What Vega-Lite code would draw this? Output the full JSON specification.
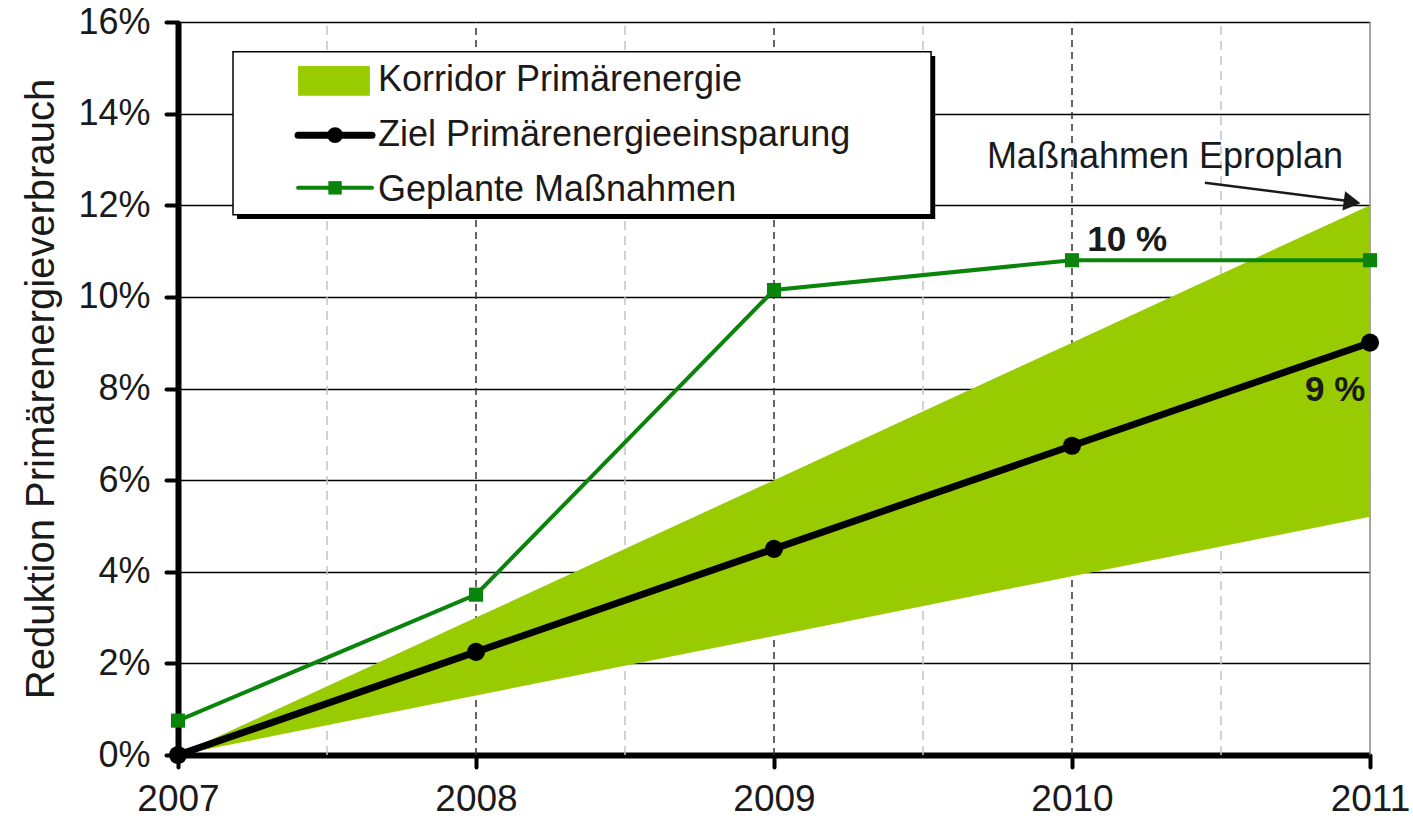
{
  "$schema": "https://vega.github.io/schema/vega-lite/v6.json",
  "width": 1192,
  "height": 733,
  "autosize": {"type": "none"},
  "padding": {"left": 178, "top": 22, "right": 43, "bottom": 71},
  "background": "white",
  "config": {"view": {"stroke": null}, "font": "Liberation Sans"},
  "datasets": {
    "minor": [{"year": 2007.5, "v": 0, "v2": 0.16}, {"year": 2008.5, "v": 0, "v2": 0.16}, {"year": 2009.5, "v": 0, "v2": 0.16}, {"year": 2010.5, "v": 0, "v2": 0.16}],
    "major": [{"year": 2008, "v": 0, "v2": 0.16}, {"year": 2009, "v": 0, "v2": 0.16}, {"year": 2010, "v": 0, "v2": 0.16}],
    "edge": [{"year": 2011, "v": 0, "v2": 0.16}],
    "corridor": [
      {"year": 2007, "v": 0, "v2": 0},
      {"year": 2008, "v": 0.013, "v2": 0.03},
      {"year": 2009, "v": 0.026, "v2": 0.06},
      {"year": 2010, "v": 0.039, "v2": 0.09},
      {"year": 2011, "v": 0.052, "v2": 0.12}
    ],
    "ziel": [
      {"year": 2007, "v": 0},
      {"year": 2008, "v": 0.0225},
      {"year": 2009, "v": 0.045},
      {"year": 2010, "v": 0.0675},
      {"year": 2011, "v": 0.09}
    ],
    "plan": [
      {"year": 2007, "v": 0.0075},
      {"year": 2008, "v": 0.035},
      {"year": 2009, "v": 0.1015},
      {"year": 2010, "v": 0.108},
      {"year": 2011, "v": 0.108}
    ],
    "legshadow": [{"year": 2007.198, "year2": 2009.541, "v": 0.1526, "v2": 0.1170}],
    "legbox": [{"year": 2007.1846, "year2": 2009.527, "v": 0.1535, "v2": 0.1179}],
    "swatch": [{"year": 2007.403, "year2": 2007.644, "v": 0.1504, "v2": 0.1439}],
    "legline1": [{"year": 2007.403, "year2": 2007.651, "v": 0.1353}],
    "legline2": [{"year": 2007.403, "year2": 2007.651, "v": 0.1238}],
    "legpt1": [{"year": 2007.527, "v": 0.1353}],
    "legpt2": [{"year": 2007.527, "v": 0.1238}],
    "legtext": [
      {"year": 2007.671, "v": 0.1473, "t": "Korridor Primärenergie"},
      {"year": 2007.671, "v": 0.1353, "t": "Ziel Primärenergieeinsparung"},
      {"year": 2007.671, "v": 0.1233, "t": "Geplante Maßnahmen"}
    ],
    "anno": [{"year": 2010.312, "v": 0.1305, "t": "Maßnahmen Eproplan"}],
    "annobold": [
      {"year": 2010.185, "v": 0.1124, "t": "10 %"},
      {"year": 2010.883, "v": 0.0797, "t": "9 %"}
    ],
    "arrow": [{"year": 2010.446, "year2": 2010.94, "v": 0.1249, "v2": 0.1208}],
    "arrowhead": [{"year": 2010.94, "v": 0.1207}]
  },
  "encoding": {
    "x": {
      "field": "year", "type": "quantitative",
      "scale": {"domain": [2007, 2011], "nice": false, "zero": false},
      "axis": {
        "values": [2007, 2008, 2009, 2010, 2011], "format": "d", "grid": false,
        "title": null, "domainColor": "black", "domainWidth": 6,
        "tickColor": "black", "tickWidth": 4, "tickSize": 12, "tickCap": "round",
        "labelFont": "Liberation Sans", "labelFontSize": 37, "labelColor": "#1a1a1a",
        "labelPadding": 14, "labelFlush": false, "labelOverlap": false
      }
    },
    "y": {
      "field": "v", "type": "quantitative",
      "scale": {"domain": [0, 0.16], "nice": false, "zero": false},
      "axis": {
        "values": [0, 0.02, 0.04, 0.06, 0.08, 0.1, 0.12, 0.14, 0.16], "format": ".0%",
        "grid": true, "gridColor": "black", "gridWidth": 1.3,
        "domainColor": "black", "domainWidth": 6,
        "tickColor": "black", "tickWidth": 4, "tickSize": 12, "tickCap": "round",
        "labelFont": "Liberation Sans", "labelFontSize": 36, "labelColor": "#1a1a1a",
        "labelPadding": 16,
        "title": "Reduktion Primärenergieverbrauch",
        "titleFont": "Liberation Sans", "titleFontSize": 40, "titleFontWeight": "normal",
        "titleColor": "#1a1a1a", "titlePadding": 16
      }
    }
  },
  "layer": [
    {"data": {"name": "minor"}, "mark": {"type": "rule", "color": "#c4c4c4", "strokeWidth": 1.5, "strokeDash": [9, 6]}, "encoding": {"y2": {"field": "v2"}}},
    {"data": {"name": "major"}, "mark": {"type": "rule", "color": "#333333", "strokeWidth": 1.5, "strokeDash": [7, 5]}, "encoding": {"y2": {"field": "v2"}}},
    {"data": {"name": "edge"}, "mark": {"type": "rule", "color": "#888888", "strokeWidth": 1.5}, "encoding": {"y2": {"field": "v2"}}},
    {"data": {"name": "corridor"}, "mark": {"type": "area", "color": "#99cc00", "opacity": 1}, "encoding": {"y2": {"field": "v2"}}},
    {"data": {"name": "plan"}, "mark": {"type": "line", "color": "#0a840a", "strokeWidth": 4, "point": {"shape": "square", "size": 200, "filled": true, "color": "#0a840a", "opacity": 1}}, "encoding": {}},
    {"data": {"name": "ziel"}, "mark": {"type": "line", "color": "black", "strokeWidth": 7, "point": {"shape": "circle", "size": 330, "filled": true, "color": "black", "opacity": 1}}, "encoding": {}},
    {"data": {"name": "legshadow"}, "mark": {"type": "rect", "color": "black"}, "encoding": {"x2": {"field": "year2"}, "y2": {"field": "v2"}}},
    {"data": {"name": "legbox"}, "mark": {"type": "rect", "fill": "white", "stroke": "black", "strokeWidth": 1.5}, "encoding": {"x2": {"field": "year2"}, "y2": {"field": "v2"}}},
    {"data": {"name": "swatch"}, "mark": {"type": "rect", "color": "#99cc00"}, "encoding": {"x2": {"field": "year2"}, "y2": {"field": "v2"}}},
    {"data": {"name": "legline1"}, "mark": {"type": "rule", "color": "black", "strokeWidth": 7, "strokeCap": "round"}, "encoding": {"x2": {"field": "year2"}}},
    {"data": {"name": "legline2"}, "mark": {"type": "rule", "color": "#0a840a", "strokeWidth": 4, "strokeCap": "round"}, "encoding": {"x2": {"field": "year2"}}},
    {"data": {"name": "legpt1"}, "mark": {"type": "point", "shape": "circle", "size": 250, "filled": true, "color": "black", "opacity": 1}, "encoding": {}},
    {"data": {"name": "legpt2"}, "mark": {"type": "point", "shape": "square", "size": 180, "filled": true, "color": "#0a840a", "opacity": 1}, "encoding": {}},
    {"data": {"name": "legtext"}, "mark": {"type": "text", "align": "left", "baseline": "middle", "fontSize": 36, "color": "#1a1a1a"}, "encoding": {"text": {"field": "t"}}},
    {"data": {"name": "anno"}, "mark": {"type": "text", "align": "center", "baseline": "middle", "fontSize": 36, "color": "#1a1a1a"}, "encoding": {"text": {"field": "t"}}},
    {"data": {"name": "annobold"}, "mark": {"type": "text", "align": "center", "baseline": "middle", "fontSize": 35, "fontWeight": "bold", "color": "#1a1a1a"}, "encoding": {"text": {"field": "t"}}},
    {"data": {"name": "arrow"}, "mark": {"type": "rule", "color": "#1a1a1a", "strokeWidth": 2.5}, "encoding": {"x2": {"field": "year2"}, "y2": {"field": "v2"}}},
    {"data": {"name": "arrowhead"}, "mark": {"type": "point", "shape": "triangle-right", "size": 380, "filled": true, "color": "#1a1a1a", "opacity": 1, "angle": 8}, "encoding": {}}
  ]
}
